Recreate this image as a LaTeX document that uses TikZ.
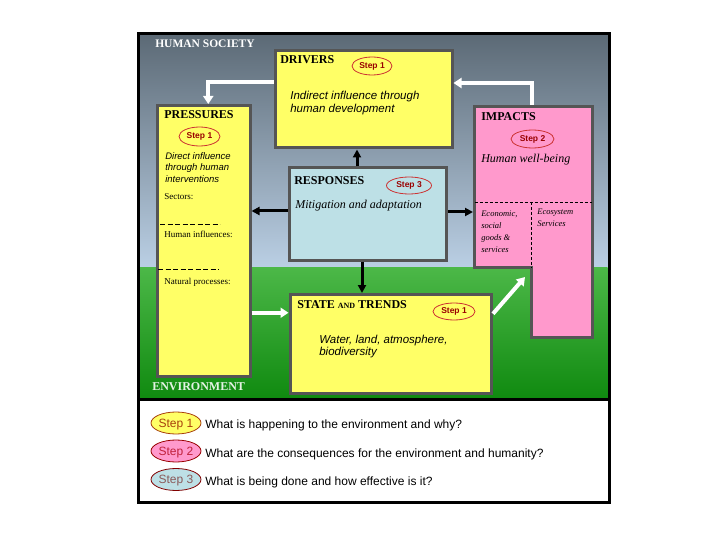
\documentclass[tikz,border=0pt]{standalone}
\usepackage{fontspec}
\setmainfont{Liberation Serif}
\setsansfont{Liberation Sans}
\usetikzlibrary{arrows.meta,shapes.geometric}

\definecolor{boxyellow}{HTML}{FFFF66}
\definecolor{boxpink}{HTML}{FF99CC}
\definecolor{boxblue}{HTML}{BDE0E6}
\definecolor{boxedge}{HTML}{555555}
\definecolor{skytop}{HTML}{5C6A76}
\definecolor{skylow}{HTML}{BACFE4}
\definecolor{grasstop}{HTML}{4CB848}
\definecolor{grasslow}{HTML}{108A10}
\definecolor{envwhite}{HTML}{E4F2E4}
\definecolor{stepred}{HTML}{990000}
\definecolor{stepline}{HTML}{CC3333}
\definecolor{legone}{HTML}{A8400C}
\definecolor{legtwo}{HTML}{C0203A}
\definecolor{legthree}{HTML}{8A5A5A}

\tikzset{
  box/.style={draw=boxedge,line width=3pt,inner sep=0pt},
  title/.style={anchor=base west,inner sep=0pt,font=\bfseries\fontsize{12}{14}\selectfont},
  stepoval/.style={ellipse,draw=stepline,line width=0.8pt,inner sep=0pt,
    text=stepred,font=\sffamily\bfseries\fontsize{8.5}{10}\selectfont},
  legoval/.style={ellipse,line width=0.8pt,inner sep=0pt,minimum width=50pt,
    minimum height=22pt,text height=8.6pt,text depth=0.5pt,font=\sffamily\fontsize{12}{14}\selectfont},
  legtext/.style={anchor=base west,inner sep=0pt,font=\sffamily\fontsize{12}{14}\selectfont},
  whiteflow/.style={draw=white,line width=4pt,-{Triangle[length=8pt,width=10pt]}},
  blackflow/.style={draw=black,line width=3pt,-{Triangle[length=8pt,width=8pt]}},
  dashline/.style={line width=0.6pt,dash pattern=on 3pt off 2pt}
}

\begin{document}
\begin{tikzpicture}[x=1pt,y=-1pt,line width=0.6pt]
\useasboundingbox (0,0) rectangle (720,540);

% background: society and environment
\shade[top color=skytop,bottom color=skylow] (140,35) rectangle (607.5,267);
\shade[top color=grasstop,bottom color=grasslow] (140,267) rectangle (607.5,398);
\draw[line width=3pt] (138.5,33.5) rectangle (609,502);
\draw[line width=3pt] (138.5,399.5) -- (609,399.5);

\node[title,text=white] (society) at (155,47.5) {\fontsize{11.5}{13}\selectfont HUMAN SOCIETY};
\node[title,text=envwhite] (environment) at (152,390) {ENVIRONMENT};

% boxes
\node[box,fill=boxyellow,minimum width=177pt,minimum height=97pt] (drivers) at (363.5,99.5) {};
\node[box,fill=boxyellow,minimum width=92.5pt,minimum height=270.5pt] (pressures) at (203.75,240.75) {};
\node[box,fill=boxblue,minimum width=157pt,minimum height=92pt] (responses) at (368,214) {};
\node[box,fill=boxyellow,minimum width=201.5pt,minimum height=98.5pt] (state) at (390.75,343.75) {};
\draw[box,fill=boxpink] (474.5,106.5) -- (592,106.5) -- (592,337) -- (531.5,337)
  -- (531.5,267.5) -- (474.5,267.5) -- cycle;
\coordinate (imptop) at (531.5,105);
\coordinate (impwest) at (473,212);
\coordinate (impnotch) at (525,277);

\draw[dashline] (474.5,202) -- (592,202);
\draw[dashline] (531.5,202) -- (531.5,267.5);
\draw[line width=0.6pt,dash pattern=on 5pt off 2.5pt] (160,224) -- (220,224);
\draw[line width=0.6pt,dash pattern=on 5pt off 2.5pt] (158,269) -- (219,269);

% titles
\node[title] (driverstitle) at (280,64) {DRIVERS};
\node[title] (pressurestitle) at (164,119) {PRESSURES};
\node[title] (impactstitle) at (481,120.5) {IMPACTS};
\node[title] (responsestitle) at (294,185) {RESPONSES};
\node[title] (statetitle) at (297,308) {STATE {\fontsize{8}{9}\selectfont AND} TRENDS};

% steps
\node[stepoval,fill=boxyellow,minimum width=40pt,minimum height=18pt] (driversstep) at (372,66) {Step 1};
\node[stepoval,fill=boxyellow,minimum width=41pt,minimum height=19pt] (pressuresstep) at (199.5,136.5) {Step 1};
\node[stepoval,fill=boxpink,minimum width=43pt,minimum height=18pt] (impactsstep) at (532.5,139) {Step 2};
\node[stepoval,fill=boxblue,minimum width=45pt,minimum height=17pt] (responsesstep) at (409,185.5) {Step 3};
\node[stepoval,fill=boxyellow,minimum width=42pt,minimum height=17pt] (statestep) at (454,311.5) {Step 1};

% box texts
\node[anchor=north west,align=left,inner sep=0pt,font=\sffamily\itshape\fontsize{11.5}{13}\selectfont]
  (driverstext) at (290,91) {Indirect influence through\\human development};
\node[anchor=north west,align=left,inner sep=0pt,font=\sffamily\itshape\fontsize{9.5}{11.7}\selectfont]
  (pressurestext) at (165,152) {Direct influence\\through human\\interventions};
\node[anchor=base west,inner sep=0pt,font=\fontsize{9}{11}\selectfont] (sectors) at (164,200) {Sectors:};
\node[anchor=base west,inner sep=0pt,font=\fontsize{9}{11}\selectfont] (humaninf) at (164,237) {Human influences:};
\node[anchor=base west,inner sep=0pt,font=\fontsize{9}{11}\selectfont] (natural) at (164,284) {Natural processes:};
\node[anchor=base west,inner sep=0pt,font=\itshape\fontsize{12}{14}\selectfont] (wellbeing) at (481,163) {Human well-being};
\node[anchor=north west,align=left,inner sep=0pt,font=\itshape\fontsize{8.5}{12}\selectfont]
  (goods) at (481,211) {Economic,\\social\\goods \&\\services};
\node[anchor=north west,align=left,inner sep=0pt,font=\itshape\fontsize{8.5}{12}\selectfont]
  (ecosystem) at (537,209) {Ecosystem\\Services};
\node[anchor=base west,inner sep=0pt,font=\itshape\fontsize{12}{14}\selectfont] (mitigation) at (295,208) {Mitigation and adaptation};
\node[anchor=north west,align=left,inner sep=0pt,font=\sffamily\itshape\fontsize{11.5}{12.5}\selectfont]
  (statetext) at (319,334.5) {Water, land, atmosphere,\\biodiversity};

% flows
\draw[whiteflow] ([yshift=-32.5pt]drivers.north west) -| ([xshift=4.5pt]pressures.north);
\draw[whiteflow] (imptop) |- ([yshift=-33.5pt]drivers.north east);
\draw[blackflow] ([xshift=-11pt]responses.north) -- ([xshift=-11pt]responses.north |- drivers.south);
\draw[blackflow] ([yshift=3pt]responses.west) -- ([yshift=3pt]responses.west -| pressures.east);
\draw[blackflow] ([yshift=2pt]responses.east) -- ([yshift=2pt]responses.east -| impwest);
\draw[blackflow] ([xshift=-6pt]responses.south) -- ([xshift=-6pt]responses.south |- state.north);
\draw[whiteflow] ([yshift=31pt]state.west -| pressures.east) -- ([yshift=31pt]state.west);
\draw[whiteflow] ([yshift=30pt]state.east) -- (impnotch);

% legend
\node[legoval,draw=legone,fill=boxyellow,text=legone] (legend1) at (176,423) {Step 1};
\node[legoval,draw=red!60!black,fill=boxpink,text=legtwo] (legend2) at (176,451) {Step 2};
\node[legoval,draw=red!50!black,fill=boxblue,text=legthree] (legend3) at (176,479.5) {Step 3};
\node[legtext] (legendtext1) at (205,428.3) {What is happening to the environment and why?};
\node[legtext] (legendtext2) at (205,457.3) {What are the consequences for the environment and humanity?};
\node[legtext] (legendtext3) at (205,485) {What is being done and how effective is it?};

\end{tikzpicture}
\end{document}
